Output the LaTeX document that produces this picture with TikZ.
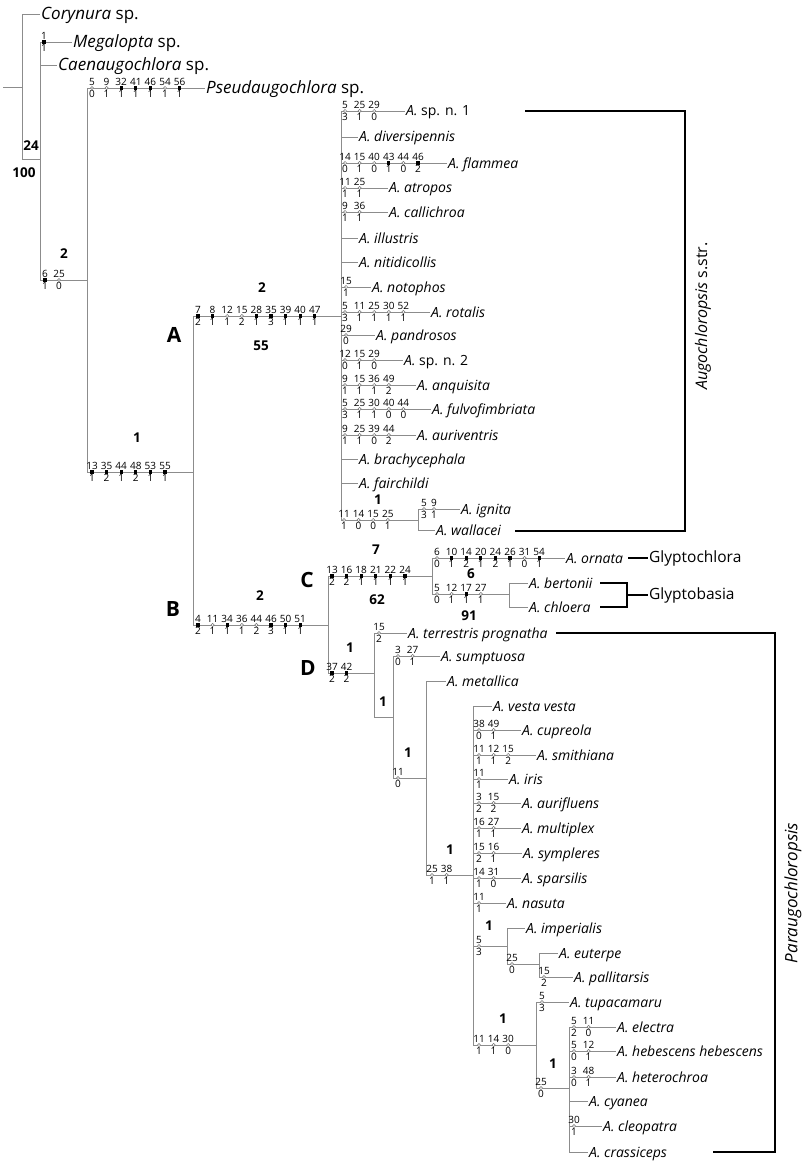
\documentclass[tikz,border=0pt]{standalone}
\usepackage{fontspec}
\setmainfont{Open Sans}

\tikzset{
  tree/.style = {draw = black!45, line width = 0.9pt},
  taxon/.style = {anchor = west, inner sep = 1pt, text height = 10pt, text depth = 0pt,
                  font = \fontsize{14}{14}\selectfont\itshape},
  outg/.style = {taxon, text height = 11pt, font = \fontsize{17}{17}\selectfont\itshape},
  num/.style = {inner sep = 0.4pt, font = \fontsize{10}{10}\selectfont},
  opn/.style = {circle, draw = black!55, fill = white, line width = 0.5pt, inner sep = 0pt, minimum size = 3.2pt},
  fil/.style = {rectangle, fill = black, inner sep = 0pt, minimum size = 3.2pt},
  bsup/.style = {inner sep = 0pt, font = \bfseries\fontsize{13.5}{13.5}\selectfont},
  clade/.style = {inner sep = 0pt, font = \bfseries\fontsize{21}{21}\selectfont},
  brk/.style = {draw = black, line width = 2.2pt},
  group/.style = {anchor = west, inner sep = 1pt, font = \fontsize{15.5}{15.5}\selectfont}
}

% characters on a branch: [step]{prefix}{first x}{y}{char/state/mark,...}
\newcommand{\markchars}[5][14.6]{%
  \foreach \cn/\st/\ty [count = \i] in {#5} {
    \pgfmathsetmacro\xx{#3+(\i-1)*#1}
    \node [\ty, label = {[num]above:\cn}, label = {[num]below:\st}] (#2-\i) at (\xx,#4) {};
  }
}

\begin{document}
\begin{tikzpicture}[x = 1pt, y = -1pt]
  \useasboundingbox (0,0) rectangle (808,1169);

  % internal nodes
  \coordinate (base) at (3,87);
  \coordinate (root) at (22,87);
  \coordinate (n1) at (40,159);
  \coordinate (n2) at (87,280);
  \coordinate (n3) at (193,472);
  \coordinate (nA) at (341,316);
  \coordinate (nIW) at (418,520);
  \coordinate (nB) at (328,625);
  \coordinate (nC) at (432,576);
  \coordinate (nBC) at (509,594);
  \coordinate (nD) at (374,673);
  \coordinate (nD2) at (393,717);
  \coordinate (nD3) at (426,778);
  \coordinate (nD4) at (473,875);
  \coordinate (nImp) at (507,946);
  \coordinate (nEu) at (539,964);
  \coordinate (nTup) at (536,1045);
  \coordinate (nEl) at (569,1088);

  % outgroups
  \node [outg] (cory) at (40,14) {Corynura \textup{sp.}};
  \node [outg] (mega) at (72,42) {Megalopta \textup{sp.}};
  \node [outg] (caen) at (57,65) {Caenaugochlora \textup{sp.}};
  \node [outg] (pseu) at (205,88) {Pseudaugochlora \textup{sp.}};

  \draw [tree] (base) -- (root);
  \draw [tree] (root) |- (cory.west);
  \draw [tree] (root) |- (n1);
  \draw [tree] (n1) |- (mega.west);
  \draw [tree] (n1) |- (caen.west);
  \draw [tree] (n1) |- (n2);
  \draw [tree] (n2) |- (pseu.west);
  \draw [tree] (n2) |- (n3);
  \draw [tree] (n3) |- (nA);
  \draw [tree] (n3) |- (nB);

  % clade A
  \foreach \n/\y/\x/\t in {spn1/111/405/{A. \textup{sp. n. 1}}, dive/137/358/A. diversipennis,
      flam/163/447/A. flammea, atro/188/388/A. atropos, call/212/388/A. callichroa,
      illu/238/358/A. illustris, niti/262/358/A. nitidicollis, noto/287/371/A. notophos,
      rota/312/430/A. rotalis, pand/335/375/A. pandrosos, spn2/360/403/{A. \textup{sp. n. 2}},
      anqu/385/416/A. anquisita, fulv/409/431/A. fulvofimbriata, auri/435/416/A. auriventris,
      brac/459/358/A. brachycephala, fair/483/358/A. fairchildi} {
    \node [taxon] (\n) at (\x,\y) {\t};
    \draw [tree] (nA) |- (\n.west);
  }
  \draw [tree] (nA) |- (nIW);
  \node [taxon] (igni) at (460,509) {A. ignita};
  \node [taxon] (wall) at (435,530) {A. wallacei};
  \draw [tree] (nIW) |- (igni.west);
  \draw [tree] (nIW) |- (wall.west);

  % clade B
  \draw [tree] (nB) |- (nC);
  \draw [tree] (nB) |- (nD);
  \node [taxon] (orna) at (565,558) {A. ornata};
  \draw [tree] (nC) |- (orna.west);
  \draw [tree] (nC) |- (nBC);
  \node [taxon] (bert) at (528,583) {A. bertonii};
  \node [taxon] (chlo) at (528,607) {A. chloera};
  \draw [tree] (nBC) |- (bert.west);
  \draw [tree] (nBC) |- (chlo.west);

  \node [taxon] (terr) at (407,633) {A. terrestris prognatha};
  \node [taxon] (sump) at (440,656) {A. sumptuosa};
  \node [taxon] (meta) at (446,681) {A. metallica};
  \draw [tree] (nD) |- (terr.west);
  \draw [tree] (nD) |- (nD2);
  \draw [tree] (nD2) |- (sump.west);
  \draw [tree] (nD2) |- (nD3);
  \draw [tree] (nD3) |- (meta.west);
  \draw [tree] (nD3) |- (nD4);

  \foreach \n/\y/\x/\t in {vest/706/492/A. vesta vesta, cupr/730/521/A. cupreola,
      smit/755/536/A. smithiana, iris/779/508/A. iris, aurf/803/521/A. aurifluens,
      mult/828/521/A. multiplex, symp/853/522/A. sympleres, spar/878/521/A. sparsilis,
      nasu/903/506/A. nasuta} {
    \node [taxon] (\n) at (\x,\y) {\t};
    \draw [tree] (nD4) |- (\n.west);
  }
  \draw [tree] (nD4) |- (nImp);
  \draw [tree] (nD4) |- (nTup);

  \node [taxon] (impe) at (525,928) {A. imperialis};
  \node [taxon] (eute) at (558,953) {A. euterpe};
  \node [taxon] (pall) at (573,977) {A. pallitarsis};
  \draw [tree] (nImp) |- (impe.west);
  \draw [tree] (nImp) |- (nEu);
  \draw [tree] (nEu) |- (eute.west);
  \draw [tree] (nEu) |- (pall.west);

  \node [taxon] (tupa) at (569,1002) {A. tupacamaru};
  \draw [tree] (nTup) |- (tupa.west);
  \draw [tree] (nTup) |- (nEl);
  \foreach \n/\y/\x/\t in {elec/1027/616/A. electra, hebe/1051/616/A. hebescens hebescens,
      hete/1077/616/A. heterochroa, cyan/1101/588/A. cyanea, cleo/1126/602/A. cleopatra,
      cras/1152/588/A. crassiceps} {
    \node [taxon] (\n) at (\x,\y) {\t};
    \draw [tree] (nEl) |- (\n.west);
  }

  % characters
  \markchars{mega}{44}{42}{1/1/fil}
  \markchars{pseu}{92}{88}{5/0/opn,9/1/opn,32/1/fil,41/1/fil,46/1/fil,54/1/opn,56/1/fil}
  \markchars[14]{b2}{45}{280}{6/1/fil,25/0/opn}
  \markchars{b3}{92}{472}{13/1/fil,35/2/fil,44/1/fil,48/2/fil,53/1/fil,55/1/fil}
  \markchars{bA}{198}{316}{7/2/fil,8/1/fil,12/1/opn,15/2/opn,28/1/fil,35/3/fil,39/1/fil,40/1/fil,47/1/fil}
  \markchars{bB}{198}{625}{4/2/fil,11/1/opn,34/1/fil,36/1/opn,44/2/opn,46/3/fil,50/1/fil,51/1/fil}
  \markchars{spn1}{345}{111}{5/3/opn,25/1/opn,29/0/opn}
  \markchars{flam}{345}{163}{14/0/opn,15/1/opn,40/0/opn,43/1/fil,44/0/opn,46/2/fil}
  \markchars{atro}{345}{188}{11/1/opn,25/1/opn}
  \markchars{call}{345}{212}{9/1/opn,36/1/opn}
  \markchars{noto}{346}{287}{15/1/opn}
  \markchars{rota}{345}{312}{5/3/opn,11/1/opn,25/1/opn,30/1/opn,52/1/opn}
  \markchars{pand}{346}{335}{29/0/opn}
  \markchars{spn2}{345}{360}{12/0/opn,15/1/opn,29/0/opn}
  \markchars{anqu}{345}{385}{9/1/opn,15/1/opn,36/1/opn,49/2/opn}
  \markchars{fulv}{345}{409}{5/3/opn,25/1/opn,30/1/opn,40/0/opn,44/0/opn}
  \markchars{auri}{345}{435}{9/1/opn,25/1/opn,39/0/opn,44/2/opn}
  \markchars{bIW}{344}{520}{11/1/opn,14/0/opn,15/0/opn,25/1/opn}
  \markchars[10]{igni}{424}{509}{5/3/opn,9/1/opn}
  \markchars{bC}{332}{576}{13/2/fil,16/2/fil,18/1/fil,21/1/fil,22/1/fil,24/1/fil}
  \markchars{orna}{437}{558}{6/0/opn,10/1/fil,14/2/fil,20/1/fil,24/2/fil,26/1/fil,31/0/opn,54/1/fil}
  \markchars{bBC}{437}{594}{5/0/opn,12/1/opn,17/1/fil,27/1/opn}
  \markchars{bD}{332}{673}{37/2/fil,42/2/fil}
  \markchars{terr}{379}{633}{15/2/opn}
  \markchars{sump}{398}{656}{3/0/opn,27/1/opn}
  \markchars{bD3}{398}{778}{11/0/opn}
  \markchars{bD4}{432}{875}{25/1/opn,38/1/opn}
  \markchars{cupr}{479}{730}{38/0/opn,49/1/opn}
  \markchars{smit}{479}{755}{11/1/opn,12/1/opn,15/2/opn}
  \markchars{iris}{479}{779}{11/1/opn}
  \markchars{aurf}{479}{803}{3/2/opn,15/2/opn}
  \markchars{mult}{479}{828}{16/1/opn,27/1/opn}
  \markchars{symp}{479}{853}{15/2/opn,16/1/opn}
  \markchars{spar}{479}{878}{14/1/opn,31/0/opn}
  \markchars{nasu}{479}{903}{11/1/opn}
  \markchars{bImp}{479}{946}{5/3/opn}
  \markchars{bEu}{512}{964}{25/0/opn}
  \markchars{pall}{544}{977}{15/2/opn}
  \markchars{bTup}{479}{1045}{11/1/opn,14/1/opn,30/0/opn}
  \markchars{tupa}{542}{1002}{5/3/opn}
  \markchars{bEl}{541}{1088}{25/0/opn}
  \markchars{elec}{574}{1027}{5/2/opn,11/0/opn}
  \markchars{hebe}{574}{1051}{5/0/opn,12/1/opn}
  \markchars{hete}{574}{1077}{3/0/opn,48/1/opn}
  \markchars{cleo}{574}{1126}{30/1/opn}

  % support values
  \node [bsup] (s24) at (31,146) {24};
  \node [bsup] (s100) at (24,173) {100};
  \node [bsup] (s2) at (64,254) {2};
  \node [bsup] (s1) at (137,438) {1};
  \node [bsup] (sA) at (262,288) {2};
  \node [bsup] (sA55) at (261,346) {55};
  \node [bsup] (sB) at (260,596) {2};
  \node [bsup] (sC) at (376,550) {7};
  \node [bsup] (sC62) at (377,600) {62};
  \node [bsup] (sBC) at (471,574) {6};
  \node [bsup] (sBC91) at (469,616) {91};
  \node [bsup] (sIW) at (378,500) {1};
  \node [bsup] (sD) at (350,648) {1};
  \node [bsup] (sD2) at (383,702) {1};
  \node [bsup] (sD3) at (408,753) {1};
  \node [bsup] (sD4) at (450,850) {1};
  \node [bsup] (sImp) at (489,926) {1};
  \node [bsup] (sTup) at (503,1019) {1};
  \node [bsup] (sEl) at (553,1064) {1};

  \node [clade] (labA) at (174,335) {A};
  \node [clade] (labB) at (173,609) {B};
  \node [clade] (labC) at (307,580) {C};
  \node [clade] (labD) at (308,668) {D};

  % groups
  \coordinate (augT) at (525,111);
  \coordinate (augR) at (685,111);
  \coordinate (augB) at (515,531);
  \draw [brk] (augT) -- (augR) |- (augB);
  \node [rotate = 90, font = \fontsize{16}{16}\selectfont] (aug) at (703,316) {\textit{Augochloropsis} s.str.};

  \coordinate (glcL) at (628,558);
  \node [group] (glc) at (648,558) {Glyptochlora};
  \draw [brk] (glcL) -- (glc.west);

  \coordinate (glbT) at (600,583);
  \coordinate (glbR) at (627,583);
  \coordinate (glbB) at (600,607);
  \coordinate (glbM) at (627,595);
  \node [group] (glb) at (648,595) {Glyptobasia};
  \draw [brk] (glbT) -- (glbR) |- (glbB);
  \draw [brk] (glbM) -- (glb.west);

  \coordinate (parT) at (556,633);
  \coordinate (parR) at (775,633);
  \coordinate (parB) at (713,1152);
  \draw [brk] (parT) -- (parR) |- (parB);
  \node [rotate = 90, font = \fontsize{17}{17}\selectfont\itshape] (par) at (793,893) {Paraugochloropsis};
\end{tikzpicture}
\end{document}
